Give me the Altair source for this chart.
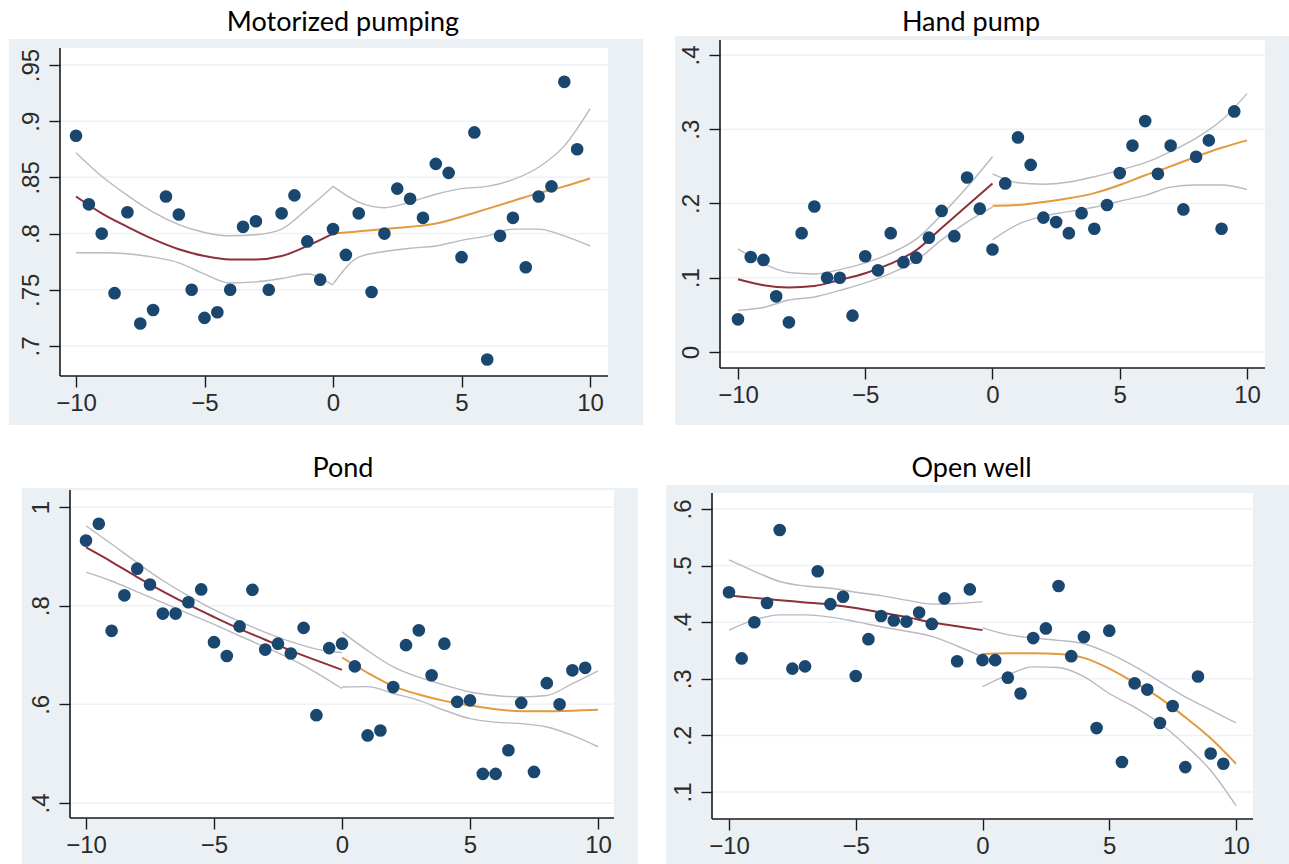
import altair as alt
import pandas as pd

# ---------------- data ----------------
X_POINTS = [-10, -9.5, -9, -8.5, -8, -7.5, -7, -6.5, -6, -5.5, -5, -4.5, -4, -3.5, -3, -2.5, -2, -1.5, -1, -0.5,
            0, 0.5, 1, 1.5, 2, 2.5, 3, 3.5, 4, 4.5, 5, 5.5, 6, 6.5, 7, 7.5, 8, 8.5, 9, 9.5]
LEFT_X = [-10, -9, -8, -7, -6, -5, -4, -3, -2, -1, 0]
RIGHT_X = [0, 1, 2, 3, 4, 5, 6, 7, 8, 9, 10]
X_TICKS = [-10, -5, 0, 5, 10]

TITLES = ["Motorized pumping", "Hand pump", "Pond", "Open well"]

# Motorized pumping
MP_Y = [.887, .826, .800, .747, .819, .720, .732, .833, .817, .750, .725, .730, .750, .806, .811, .750, .818, .834, .793, .759,
        .804, .781, .818, .748, .800, .840, .831, .814, .862, .854, .779, .890, .688, .798, .814, .770, .833, .842, .935, .875]
MP_FIT_L = [.833, .818, .806, .795, .786, .780, .777, .777, .780, .789, .800]
MP_UP_L = [.872, .851, .834, .819, .808, .801, .798, .799, .804, .822, .842]
MP_LO_L = [.783, .783, .782, .779, .774, .764, .756, .757, .760, .764, .754]
MP_FIT_R = [.800, .802, .804, .806, .809, .815, .822, .829, .836, .842, .849]
MP_UP_R = [.842, .828, .823, .828, .835, .840, .842, .848, .859, .878, .911]
MP_LO_R = [.755, .779, .784, .787, .789, .794, .798, .804, .804, .798, .789]
MP_TICKS = [.7, .75, .8, .85, .9, .95]

# Hand pump
HP_Y = [.044, .128, .124, .075, .040, .160, .196, .100, .100, .049, .129, .110, .160, .121, .127, .154, .190, .156, .235, .193,
        .138, .227, .289, .252, .181, .175, .160, .187, .166, .198, .241, .278, .311, .240, .278, .192, .263, .285, .166, .324]
HP_FIT_L = [.098, .090, .087, .089, .097, .106, .119, .137, .167, .197, .227]
HP_UP_L = [.139, .119, .107, .105, .111, .120, .133, .152, .185, .222, .263]
HP_LO_L = [.056, .060, .070, .074, .083, .093, .106, .123, .151, .175, .195]
HP_FIT_R = [.197, .198, .202, .207, .214, .225, .238, .250, .263, .275, .285]
HP_UP_R = [.240, .228, .226, .229, .236, .245, .255, .270, .288, .312, .348]
HP_LO_R = [.151, .172, .183, .189, .195, .203, .211, .222, .225, .225, .219]
HP_TICKS = [0, .1, .2, .3, .4]

# Pond
PD_Y = [.932, .966, .749, .821, .875, .843, .784, .784, .807, .833, .726, .698, .758, .832, .711, .723, .703, .755, .578, .714,
        .723, .677, .537, .547, .635, .720, .750, .659, .723, .605, .608, .459, .459, .507, .603, .463, .643, .600, .669, .674]
PD_FIT_L = [.918, .889, .858, .829, .802, .777, .753, .731, .709, .689, .670]
PD_UP_L = [.962, .925, .887, .851, .820, .792, .768, .746, .727, .712, .705]
PD_LO_L = [.868, .850, .828, .806, .784, .762, .739, .716, .692, .664, .632]
PD_FIT_R = [.695, .664, .637, .620, .607, .598, .590, .586, .586, .587, .589]
PD_UP_R = [.747, .709, .676, .655, .639, .625, .618, .615, .618, .642, .668]
PD_LO_R = [.635, .636, .622, .608, .588, .571, .564, .561, .554, .537, .514]
PD_TICKS = [.4, .6, .8, 1]

# Open well
OW_Y = [.453, .336, .400, .434, .563, .318, .322, .490, .432, .445, .305, .370, .411, .403, .401, .417, .397, .442, .331, .458,
        .333, .333, .302, .274, .372, .389, .464, .340, .374, .213, .385, .153, .292, .281, .222, .252, .144, .304, .168, .150]
OW_FIT_L = [.447, .443, .439, .435, .431, .425, .417, .409, .400, .393, .386]
OW_UP_L = [.510, .490, .472, .464, .460, .453, .447, .439, .432, .433, .436]
OW_LO_L = [.386, .404, .413, .413, .409, .401, .392, .384, .375, .358, .339]
OW_FIT_R = [.344, .345, .345, .344, .337, .318, .293, .266, .232, .195, .150]
OW_UP_R = [.390, .378, .372, .368, .362, .345, .322, .295, .268, .245, .222]
OW_LO_R = [.286, .307, .321, .320, .304, .274, .250, .221, .183, .138, .076]
OW_TICKS = [.1, .2, .3, .4, .5, .6]

# ---------------- style ----------------
NAVY = "#1A476F"
MAROON = "#8E2F3A"
ORANGE = "#E39A3E"
CI_GREY = "#B9B9C2"
PANEL_BG = "#EAF0F3"
GRID = "#EEF2F4"
AXIS_INK = "#1a1a1a"
TITLE_FONT = "Lato"
LABEL_FONT = "Liberation Sans"
AXIS_STYLE = dict(zindex=1, domain=False, tickColor=AXIS_INK, tickWidth=1.4,
                  tickSize=11, labelFont=LABEL_FONT, labelFontSize=24, labelColor="#2a2a2a",
                  title=None, grid=False)


def vrect(df, color, box):
    return alt.Chart(df).mark_rect(color=color).encode(
        x=alt.value(box[0]), x2=alt.value(box[1]), y=alt.value(box[2]), y2=alt.value(box[3]))


def panel(title, ys, fl, ul, ll, fr, ur, lr, yticks, xdom, ydom, w, h, plot, yoff, grey, cell, tpos):
    pts = pd.DataFrame({"x": X_POINTS, "y": ys})
    rows = []
    for name, xs, vals in [("ul", LEFT_X, ul), ("ll", LEFT_X, ll), ("ur", RIGHT_X, ur), ("lr", RIGHT_X, lr)]:
        for xv, yv in zip(xs, vals):
            rows.append({"x": xv, "y": yv, "band": name})
    ci = pd.DataFrame(rows)
    fitl = pd.DataFrame({"x": LEFT_X, "y": fl})
    fitr = pd.DataFrame({"x": RIGHT_X, "y": fr})
    grid = pd.DataFrame({"y": yticks})
    one = pd.DataFrame({"k": [0]})

    px0, px1, py0, py1 = plot
    xsc = alt.Scale(domain=xdom, nice=False, zero=False)
    ysc = alt.Scale(domain=ydom, nice=False, zero=False)
    xax = alt.Axis(values=X_TICKS, labelPadding=4, labelBaseline="top", labelAlign="center", **AXIS_STYLE)
    yax = alt.Axis(values=yticks, labelAngle=270, labelAlign="center", offset=yoff,
                   labelBaseline="alphabetic", labelPadding=11,
                   labelExpr="replace(format(datum.value, '.2~f'), /^0\\./, '.')", **AXIS_STYLE)
    X = alt.X("x:Q", scale=xsc, axis=xax)
    Y = alt.Y("y:Q", scale=ysc, axis=yax)

    cell_rect = vrect(one, "white", cell)
    grey_rect = vrect(one, PANEL_BG, grey)
    plot_rect = vrect(one, "white", plot)
    grid_rules = alt.Chart(grid).mark_rule(color=GRID, strokeWidth=1.5).encode(
        y=Y, x=alt.value(px0), x2=alt.value(px1))
    y_line = alt.Chart(one).mark_rule(color=AXIS_INK, strokeWidth=1.6).encode(
        x=alt.value(px0), y=alt.value(py0), y2=alt.value(py1))
    x_line = alt.Chart(one).mark_rule(color=AXIS_INK, strokeWidth=1.6).encode(
        y=alt.value(py1), x=alt.value(px0), x2=alt.value(px1))
    ci_lines = alt.Chart(ci).mark_line(color=CI_GREY, strokeWidth=1.4, interpolate="monotone").encode(
        x=X, y=Y, detail="band:N")
    fit_l = alt.Chart(fitl).mark_line(color=MAROON, strokeWidth=2, interpolate="monotone").encode(x=X, y=Y)
    fit_r = alt.Chart(fitr).mark_line(color=ORANGE, strokeWidth=2, interpolate="monotone").encode(x=X, y=Y)
    points = alt.Chart(pts).mark_circle(color=NAVY, size=160, opacity=1).encode(x=X, y=Y)
    ttl = alt.Chart(one).mark_text(text=title, font=TITLE_FONT, fontSize=27, color="black",
                                   align="center", baseline="alphabetic").encode(
        x=alt.value(tpos[0]), y=alt.value(tpos[1]))

    return alt.layer(cell_rect, grey_rect, plot_rect, grid_rules, ci_lines, fit_l, fit_r, points,
                     y_line, x_line, ttl).properties(width=w, height=h)


# origins: column 1 x=60, column 2 x=712, row 1 y=40, row 2 y=490
p1 = panel(TITLES[0], MP_Y, MP_FIT_L, MP_UP_L, MP_LO_L, MP_FIT_R, MP_UP_R, MP_LO_R, MP_TICKS,
           [-10.623, 10.70], [0.6733, 0.9722], 548, 336, plot=(0, 548, 8, 336), yoff=0,
           grey=(-51, 583, -1, 385), cell=(-60, 600, -40, 400), tpos=(283, -9))
p2 = panel(TITLES[1], HP_Y, HP_FIT_L, HP_UP_L, HP_LO_L, HP_FIT_R, HP_UP_R, HP_LO_R, HP_TICKS,
           [-11.0216, 10.7073], [-0.02155, 0.4202], 553, 328, plot=(8, 553, 0, 328), yoff=-8,
           grey=(-37, 577, -4, 385), cell=(-52, 577, -40, 400), tpos=(259, -9))
p3 = panel(TITLES[2], PD_Y, PD_FIT_L, PD_UP_L, PD_LO_L, PD_FIT_R, PD_UP_R, PD_LO_R, PD_TICKS,
           [-11.0156, 10.625], [0.3696, 1.0345], 554, 328, plot=(10, 554, 0, 328), yoff=-10,
           grey=(-38, 578, -2, 374), cell=(-60, 600, -50, 374), tpos=(283, -13))
p4 = panel(TITLES[3], OW_Y, OW_FIT_L, OW_UP_L, OW_LO_L, OW_FIT_R, OW_UP_R, OW_LO_R, OW_TICKS,
           [-10.67, 10.67], [0.0523, 0.6336], 541, 329, plot=(0, 541, 3, 329), yoff=0,
           grey=(-46, 577, -5, 374), cell=(-52, 577, -50, 374), tpos=(259.5, -13))

chart = alt.concat(p1, p2, p3, p4, columns=2, spacing=0).properties(
    padding=0, background="white"
).configure_view(strokeWidth=0)

chart.save("out.html", embed_options={"renderer": "svg", "actions": False})
